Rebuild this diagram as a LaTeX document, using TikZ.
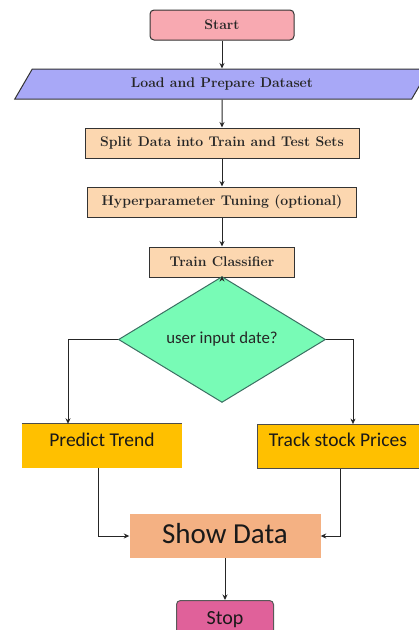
\documentclass[tikz,border=0pt]{standalone}
\usepackage{fontspec}
\newfontfamily\calibri{Carlito}
\usetikzlibrary{shapes.geometric,arrows.meta}

\definecolor{startpink}{HTML}{F8A9B1}
\definecolor{loadblue}{HTML}{A8A8F7}
\definecolor{stepbeige}{HTML}{FCD7B0}
\definecolor{decgreen}{HTML}{78FBB6}
\definecolor{decedge}{HTML}{3B6F62}
\definecolor{resultgold}{HTML}{FFC000}
\definecolor{showorange}{HTML}{F4B183}
\definecolor{stoppink}{HTML}{E0619A}

\begin{document}
\begin{tikzpicture}[x=1pt, y=-1pt,
	serif text/.style={font=\fontsize{14}{16}\selectfont\bfseries, text=black!85},
	step box/.style={draw=black!80, line width=1pt, fill=stepbeige, minimum height=30pt, inner sep=0pt, serif text},
	start box/.style={step box, fill=startpink, rounded corners=4pt},
	data box/.style={trapezium, trapezium left angle=56, trapezium right angle=124, trapezium stretches=true,
		draw=black!80, line width=1pt, fill=loadblue, minimum height=30pt, inner sep=0pt, serif text},
	decision/.style={diamond, draw=decedge, line width=1pt, fill=decgreen, minimum width=207pt, minimum height=117pt,
		inner sep=0pt, font=\calibri\fontsize{16.8}{18}\selectfont, text=black!85},
	result box/.style={fill=resultgold, text height=22pt, text depth=22pt, inner ysep=0pt,
		font=\calibri\fontsize{19.5}{22}\selectfont, text=black!90},
	arrow/.style={-{Stealth[length=5.5pt,width=5pt]}, draw=black!85, line width=1pt}]

	\useasboundingbox (0,0) rectangle (419,630);

	% training steps
	\node[start box, minimum width=144pt] (start) at (222,25) {Start};
	\node[data box, minimum width=415pt] (load) at (222,84) {Load and Prepare Dataset};
	\node[step box, minimum width=274pt] (split) at (222,143) {Split Data into Train and Test Sets};
	\node[step box, minimum width=269pt] (tune) at (222,202) {Hyperparameter Tuning (optional)};
	\node[step box, minimum width=145pt] (train) at (222,262) {Train Classifier};

	% decision and the two branches
	\node[decision] (dec) at (222,339.5) {user input date?};
	\node[result box, minimum width=160pt] (trend) at (102,446) {Predict Trend};
	\node[result box, minimum width=162pt, draw=black!70, line width=0.8pt] (track) at (338,446.5) {Track stock Prices};
	\draw[black!70, line width=0.8pt] (trend.north west) -- (trend.north east);

	% output
	\node[fill=showorange, minimum width=191pt, text height=29pt, text depth=15pt, inner ysep=0pt,
		font=\calibri\fontsize{29}{32}\selectfont, text=black!90] (show) at (225,536) {Show Data};
	\node[fill=stoppink, draw=black!65, line width=1pt, rounded corners=4pt, minimum width=97pt,
		text height=24pt, text depth=18pt, inner ysep=0pt, anchor=north,
		font=\calibri\fontsize{20}{24}\selectfont, text=black!90] (stop) at (225,600) {Stop};

	% connections
	\foreach \from/\to in {start/load, load/split, split/tune, tune/train, train/dec}
		\draw[arrow] (\from) -- (\to);
	\draw[arrow] (dec.west) -| ([xshift=-34pt]trend.north);
	\draw[arrow] (dec.east) -| ([xshift=15pt]track.north);
	\draw[arrow] ([xshift=-4pt]trend.south) |- (show.west);
	\draw[arrow] ([xshift=2pt]track.south) |- (show.east);
	\draw[arrow] (show) -- (stop);
\end{tikzpicture}
\end{document}
